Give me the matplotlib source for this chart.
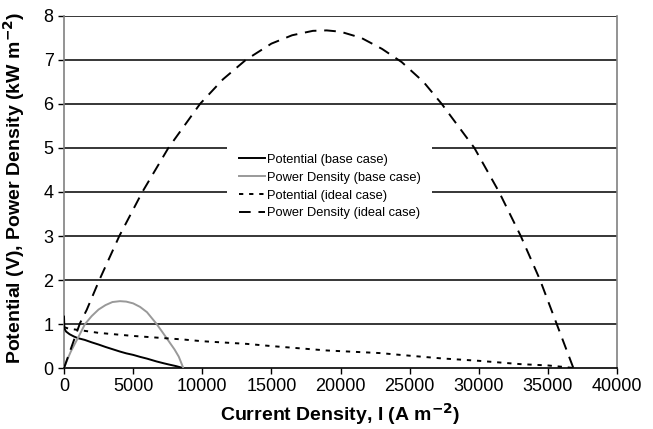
import matplotlib
matplotlib.use('Agg')
import matplotlib.pyplot as plt

plt.rcParams['font.family'] = ['Liberation Sans', 'DejaVu Sans']

# current density (A m-2) and values
base_i = [0, 30, 150, 400, 700, 1000, 1500, 2000, 2500, 3000, 3500, 4050, 4500,
          5000, 5500, 6000, 6700, 7200, 7600, 8100, 8630]
base_v = [1.17, 0.90, 0.83, 0.77, 0.72, 0.68, 0.64, 0.585, 0.535, 0.48, 0.43, 0.375, 0.335,
          0.30, 0.255, 0.215, 0.15, 0.11, 0.08, 0.045, 0.0]

base_pi = [0, 250, 500, 1000, 1519, 2000, 2500, 3000, 3500, 4050, 4500, 5000,
           5500, 6000, 6703, 7200, 7600, 8000, 8300, 8630]
base_p = [0, 0.2, 0.38, 0.68, 1.0, 1.18, 1.33, 1.43, 1.50, 1.52, 1.51, 1.47,
          1.39, 1.27, 1.0, 0.78, 0.6, 0.42, 0.26, 0.0]

ideal_i = [0, 300, 700, 1400, 2500, 5000, 8600, 10000, 13200, 15000, 19000,
           22900, 24300, 27300, 30000, 33000, 35000, 36000, 36900]
ideal_v = [0.93, 0.90, 0.88, 0.85, 0.80, 0.73, 0.65, 0.61, 0.55, 0.50, 0.40,
           0.34, 0.30, 0.22, 0.165, 0.09, 0.06, 0.03, 0.0]

ideal_pi = [0, 1157, 1640, 2556, 4002, 5666, 7548, 9837, 11500, 13150, 15000, 16500,
            18000, 19000, 20000, 21500, 23000, 24425, 26000, 27318, 29680, 31465,
            33033, 34431, 35635, 36840]
ideal_p = [0, 1.02, 1.32, 2.0, 3.0, 4.0, 5.0, 6.0, 6.56, 7.0, 7.37, 7.56,
           7.66, 7.67, 7.64, 7.5, 7.25, 6.95, 6.5, 6.0, 5.0, 4.0,
           3.0, 2.0, 1.0, 0.0]

fig = plt.figure(figsize=(6.53, 4.29), dpi=100)
ax = fig.add_axes([0.098, 0.142, 0.847, 0.821])

for yv in range(1, 9):
    ax.axhline(yv, color='black', lw=1.1, zorder=1)

ax.plot(base_i, base_v, color='black', lw=1.4, label='Potential (base case)', zorder=3)
ax.plot(base_pi, base_p, color='#999999', lw=1.4, label='Power Density (base case)', zorder=3)
ax.plot(ideal_i, ideal_v, color='black', lw=1.4, dashes=(2.2, 3.0),
        label='Potential (ideal case)', zorder=3)
ax.plot(ideal_pi, ideal_p, color='black', lw=1.4, dashes=(6, 4),
        label='Power Density (ideal case)', zorder=3)

ax.set_xlim(0, 40000)
ax.set_ylim(0, 8)
ax.set_xticks(range(0, 40001, 5000))
ax.set_yticks(range(0, 9))
ax.tick_params(labelsize=13, length=4, width=1, direction='out')

ax.spines['top'].set_visible(False)
ax.spines['left'].set_color('#808080')
ax.spines['right'].set_color('#808080')
ax.spines['left'].set_linewidth(1.2)
ax.spines['right'].set_linewidth(1.2)
ax.spines['bottom'].set_linewidth(1.2)

ax.set_xlabel('Current Density, I (A m$^{\\mathbf{-2}}$)', fontsize=14, fontweight='bold')
ax.set_ylabel('Potential (V), Power Density (kW m$^{\\mathbf{-2}}$)', fontsize=14, fontweight='bold')
ax.yaxis.set_label_coords(-0.066, 0.51)

leg = ax.legend(loc='center', bbox_to_anchor=(0.505, 0.565), bbox_transform=fig.transFigure,
                fontsize=9.3, frameon=True, facecolor='white', edgecolor='none', framealpha=1,
                fancybox=False, handlelength=2.0, handletextpad=0.15, labelspacing=0.45,
                borderpad=0.9)
leg.set_zorder(5)

fig.savefig('out.png', dpi=100)
